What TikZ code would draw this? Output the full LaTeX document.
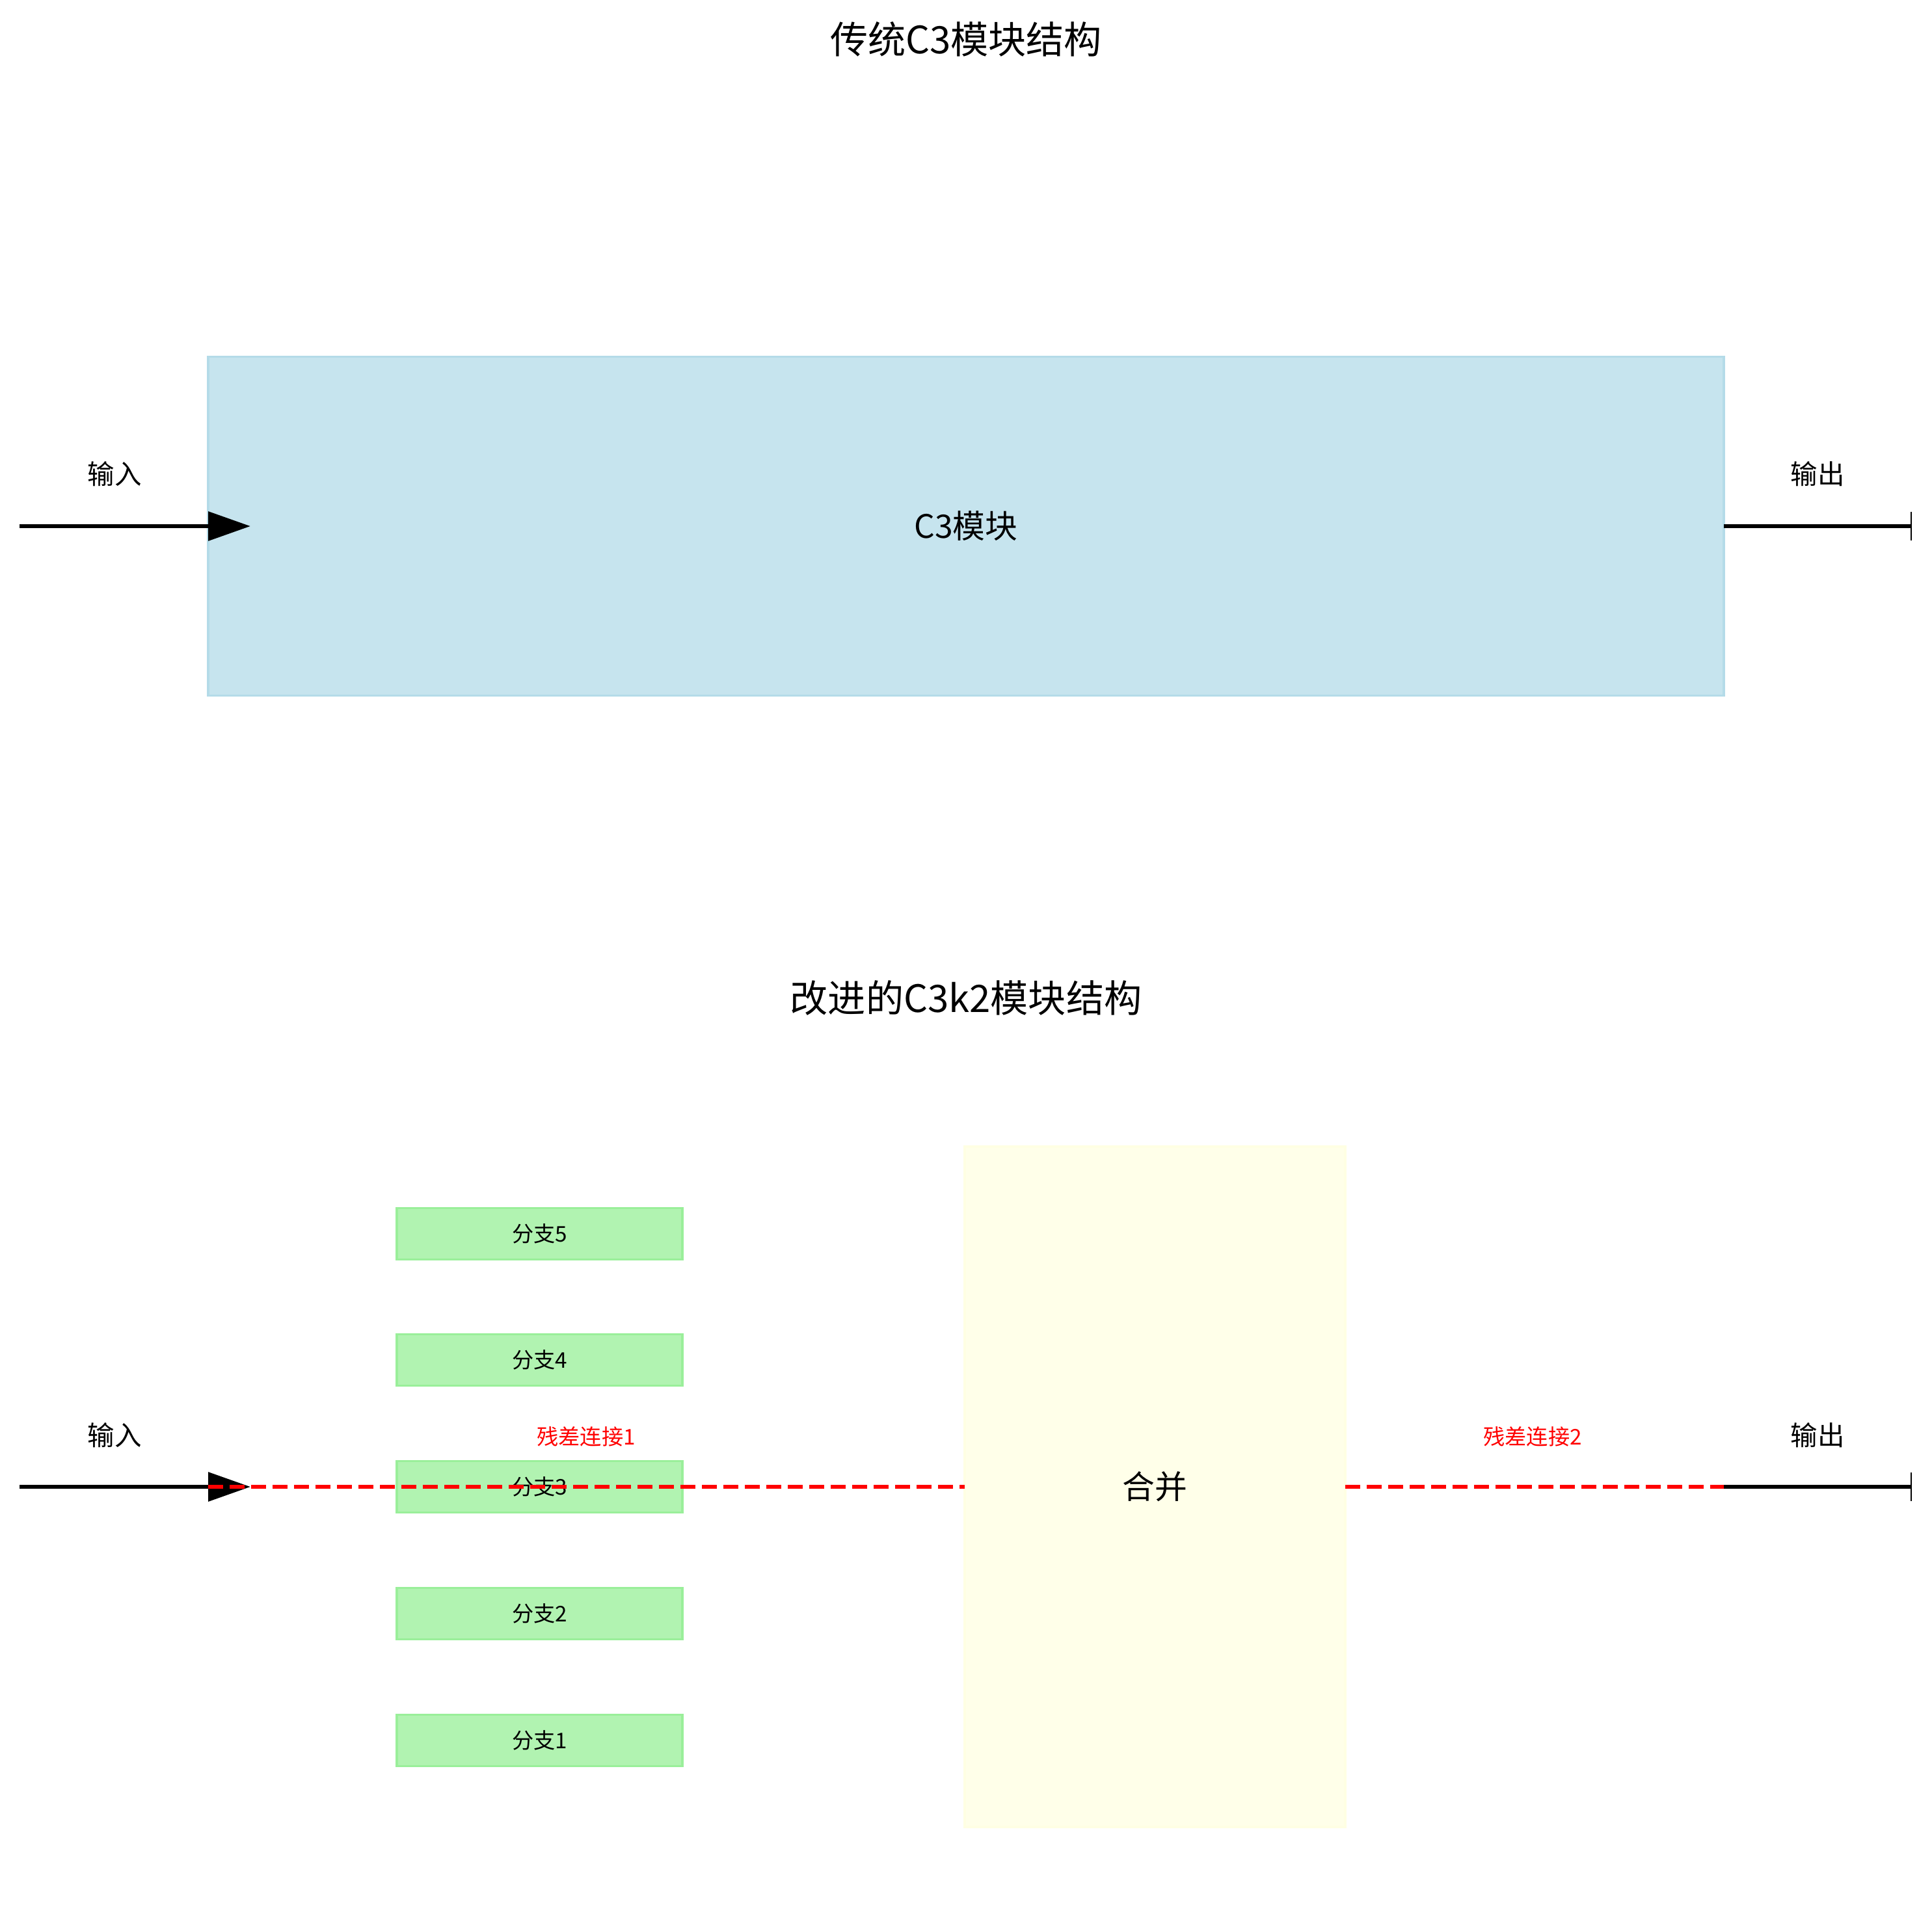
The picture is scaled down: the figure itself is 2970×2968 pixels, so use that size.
\documentclass[tikz,border=0pt]{standalone}
\usepackage{fontspec}
\setmainfont{Noto Sans CJK SC}
\usetikzlibrary{arrows.meta}
\definecolor{c3fill}{RGB}{198,228,238}
\definecolor{c3edge}{RGB}{180,219,232}
\definecolor{brfill}{RGB}{177,243,177}
\definecolor{bredge}{RGB}{154,239,154}
\definecolor{mgfill}{RGB}{255,255,233}
\definecolor{mgedge}{RGB}{255,255,227}
\definecolor{resred}{RGB}{255,0,0}
\newcommand\pxu{0.084667mm}

\begin{document}
\begin{tikzpicture}[x=0.084667mm,y=-0.084667mm,
    title/.style={font=\fontsize{14}{17}\selectfont,inner sep=0},
    lbl/.style={font=\fontsize{10}{12}\selectfont,inner sep=0},
    reslbl/.style={font=\fontsize{8}{10}\selectfont,inner sep=0,text=resred},
    blockbox/.style={draw=c3edge,fill=c3fill,line width=0.8pt,inner sep=0,outer sep=0,
      font=\fontsize{12}{14}\selectfont},
    branchbox/.style={draw=bredge,fill=brfill,line width=0.8pt,inner sep=0,outer sep=0,
      minimum width=439*\pxu,minimum height=79*\pxu,font=\fontsize{8}{10}\selectfont},
    mergebox/.style={draw=mgedge,fill=mgfill,line width=0.8pt,inner sep=0,outer sep=0,
      font=\fontsize{12}{14}\selectfont},
    flow/.style={line width=1.5pt},
    inarrow/.style={flow,-{Triangle[length=5.5mm,width=3.73mm]},shorten >=-5.5mm},
    outbar/.style={flow,-{Bar[width=3.73mm,line width=0.5pt]}},
    residual/.style={resred,line width=1.5pt,dash pattern=on 5.55pt off 2.4pt}]
  \useasboundingbox (0,0) rectangle (2970,2968);

  % traditional C3
  \node[title] (t1) at (1485,60) {传统C3模块结构};
  \node[blockbox,minimum width=2330*\pxu,minimum height=521*\pxu] (c3) at (1485,809) {C3模块};
  \node[lbl] (inlbl1) at (176,729) {输入};
  \node[lbl] (outlbl1) at (2794,729) {输出};
  \coordinate (in1) at (30,809);
  \coordinate (out1) at (2939,809);
  \draw[inarrow] (in1) -- (c3.west);
  \draw[outbar] (c3.east) -- (out1);

  % improved C3k2
  \node[title] (t2) at (1485,1534) {改进的C3k2模块结构};
  \foreach \i/\y in {5/1897,4/2091,3/2286,2/2481,1/2676}
    \node[branchbox] (br\i) at (829.5,\y) {分支\i};
  \node[mergebox,minimum width=585*\pxu,minimum height=1046*\pxu] (mg) at (1775.5,2286) {合并};
  \node[lbl] (inlbl2) at (176,2207) {输入};
  \node[lbl] (outlbl2) at (2794,2207) {输出};
  \node[reslbl] (res1lbl) at (901,2209) {残差连接1};
  \node[reslbl] (res2lbl) at (2356,2209) {残差连接2};
  \coordinate (in2) at (30,2286);
  \coordinate (tip2) at (320,2286);
  \coordinate (res2) at (2650,2286);
  \coordinate (out2) at (2939,2286);
  \draw[inarrow] (in2) -- (tip2);
  \draw[residual] (tip2) -- (mg.west);
  \draw[residual] (mg.east) -- (res2);
  \draw[outbar] (res2) -- (out2);
\end{tikzpicture}
\end{document}
